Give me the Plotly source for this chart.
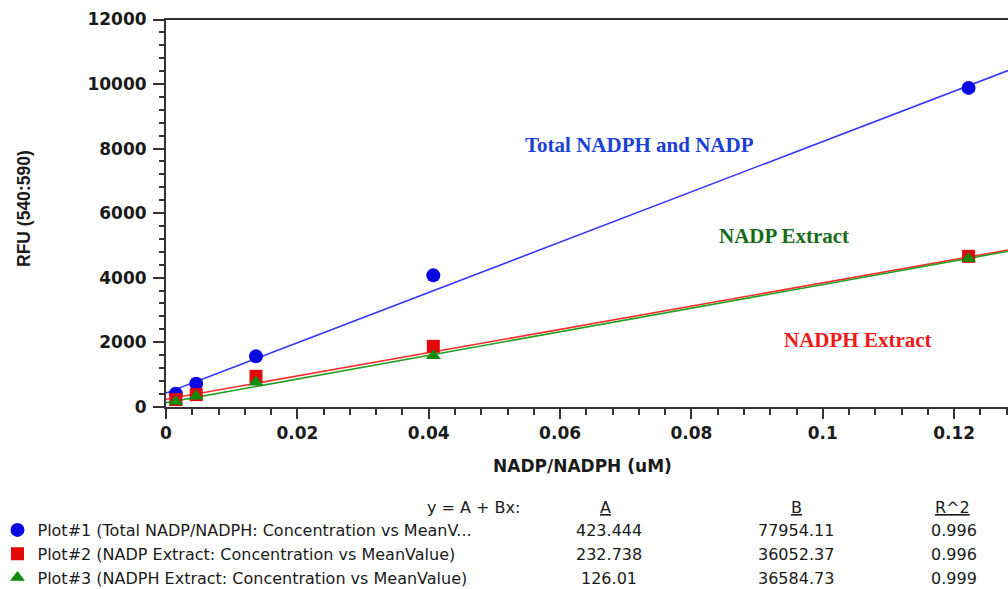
import plotly.graph_objects as go

# ---- standard curve data -------------------------------------------------
# NADP/NADPH standard concentrations (uM), 3-fold dilution series
conc_um = [0.0015, 0.0046, 0.0137, 0.0407, 0.1222]

# mean fluorescence (RFU, Ex/Em 540/590) for each series
rfu_total = [400, 710, 1560, 4070, 9880]
rfu_nadp_extract = [220, 375, 940, 1870, 4660]
rfu_nadph_extract = [165, 320, 755, 1580, 4590]

plot_names = [
    "Plot#1 (Total NADP/NADPH: Concentration vs MeanV...",
    "Plot#2 (NADP Extract: Concentration vs MeanValue)",
    "Plot#3 (NADPH Extract: Concentration vs MeanValue)",
]
curve_labels = ["Total NADPH and NADP", "NADP Extract", "NADPH Extract"]

# linear fit results, y = A + Bx
fit_a = [423.444, 232.738, 126.01]
fit_b = [77954.11, 36052.37, 36584.73]
fit_r2 = [0.996, 0.996, 0.999]

x_tick_vals = [0, 0.02, 0.04, 0.06, 0.08, 0.1, 0.12]
x_tick_text = ["0", "0.02", "0.04", "0.06", "0.08", "0.1", "0.12"]
y_tick_vals = [0, 2000, 4000, 6000, 8000, 10000, 12000]
y_tick_text = ["0", "2000", "4000", "6000", "8000", "10000", "12000"]

# ---- styling -------------------------------------------------------------
W, H = 1008, 589
PLOT_L, PLOT_T, PLOT_B = 166, 19.5, 406.7
X_MAX = 0.1282
Y_MAX = 12000

marker_colors = ["#0808e0", "#e00808", "#0e8a0e"]
line_colors = ["#3838ff", "#ff2a2a", "#22a022"]
label_colors = ["#1c3fd4", "#166c16", "#f01818"]
symbols = ["circle", "square", "triangle-up"]
marker_sizes = [14, 13, 13]
label_pos = [(639, 145), (784, 236), (858, 340)]

SANS = "DejaVu Sans"
SERIF = "Liberation Serif, Times New Roman, serif"
INK = "#1a1a1a"
AXIS = "#333333"


def px(x):
    return x / W


def py(y):
    return 1 - y / H


series_rfu = [rfu_total, rfu_nadp_extract, rfu_nadph_extract]

fig = go.Figure()

# fitted lines drawn first so the markers sit on top
for a, b, color in zip(fit_a, fit_b, line_colors):
    xs = [0, X_MAX]
    fig.add_trace(go.Scatter(
        x=xs, y=[a + b * v for v in xs], mode="lines",
        line=dict(color=color, width=1.6),
        showlegend=False, hoverinfo="skip", cliponaxis=True,
    ))

for name, ys, color, sym, size in zip(plot_names, series_rfu, marker_colors,
                                      symbols, marker_sizes):
    fig.add_trace(go.Scatter(
        x=conc_um, y=ys, mode="markers", name=name,
        marker=dict(color=color, symbol=sym, size=size, line=dict(width=0)),
        cliponaxis=False,
    ))

annotations = []

# curve labels inside the plot
for text, color, (lx, ly) in zip(curve_labels, label_colors, label_pos):
    annotations.append(dict(
        text=f"<b>{text}</b>", x=px(lx), y=py(ly), xref="paper", yref="paper",
        showarrow=False, xanchor="center", yanchor="middle",
        font=dict(family=SERIF, size=21, color=color),
    ))

# axis titles
annotations.append(dict(
    text="NADP/NADPH (uM)", x=px(582), y=py(466), xref="paper", yref="paper",
    showarrow=False, xanchor="center", yanchor="middle",
    font=dict(family=SANS, size=17, color=INK, weight="bold"),
))
annotations.append(dict(
    text="RFU (540:590)", x=px(24), y=py(209), xref="paper", yref="paper",
    showarrow=False, xanchor="center", yanchor="middle", textangle=-90,
    font=dict(family="Liberation Sans, Arial, sans-serif", size=17.5,
              color=INK, weight="bold"),
))

# fit-parameter table
table_font = dict(family=SANS, size=16, color=INK)
header_y = 507
row_y = [530.5, 554.3, 578]
col_x = [609, 796, 954]
annotations.append(dict(
    text="y = A + Bx:", x=px(521), y=py(header_y), xref="paper", yref="paper",
    showarrow=False, xanchor="right", yanchor="middle", font=table_font,
    borderpad=0,
))
for head, cx in zip(["A", "B", "R^2"], [605, 796, 952]):
    annotations.append(dict(
        text=f"<u>{head}</u>", x=px(cx), y=py(header_y), xref="paper",
        yref="paper", showarrow=False, xanchor="center", yanchor="middle",
        font=table_font, borderpad=0,
    ))
for i in range(3):
    cells = [f"{fit_a[i]:g}", f"{fit_b[i]:.2f}", f"{fit_r2[i]:.3f}"]
    for cell, cx in zip(cells, col_x):
        annotations.append(dict(
            text=cell, x=px(cx), y=py(row_y[i]), xref="paper", yref="paper",
            showarrow=False, xanchor="center", yanchor="middle",
            font=table_font, borderpad=0,
        ))

tick_font = dict(family=SANS, size=17, color=INK, weight="bold")

fig.update_layout(
    width=W, height=H,
    margin=dict(l=0, r=0, t=0, b=0, autoexpand=False),
    paper_bgcolor="white", plot_bgcolor="white",
    hovermode=False,
    annotations=annotations,
    legend=dict(
        x=-0.0025, xanchor="left", y=py(513), yanchor="top",
        font=dict(family=SANS, size=16, color=INK),
        bgcolor="rgba(0,0,0,0)", borderwidth=0,
        itemclick=False, itemdoubleclick=False,
    ),
    xaxis=dict(
        domain=[px(PLOT_L), 1], range=[0, X_MAX],
        showgrid=False, zeroline=False,
        showline=True, linecolor=AXIS, linewidth=2, mirror=True,
        ticks="outside", ticklen=10, tickwidth=1.5, tickcolor=AXIS,
        tickvals=x_tick_vals, ticktext=x_tick_text, tickfont=tick_font,
        minor=dict(dtick=0.004, tick0=0, ticks="outside", ticklen=6,
                   tickwidth=1.5, tickcolor=AXIS, showgrid=False),
        automargin=False,
    ),
    yaxis=dict(
        domain=[py(PLOT_B), py(PLOT_T)], range=[0, Y_MAX],
        showgrid=False, zeroline=False,
        showline=True, linecolor=AXIS, linewidth=2,
        ticks="outside", ticklen=11, tickwidth=1.5, tickcolor=AXIS,
        tickvals=y_tick_vals, ticktext=y_tick_text, tickfont=tick_font,
        ticklabelstandoff=3,
        minor=dict(dtick=400, tick0=0, ticks="outside", ticklen=5,
                   tickwidth=1.5, tickcolor=AXIS, showgrid=False),
        automargin=False,
    ),
)

fig.write_html("out.html")
